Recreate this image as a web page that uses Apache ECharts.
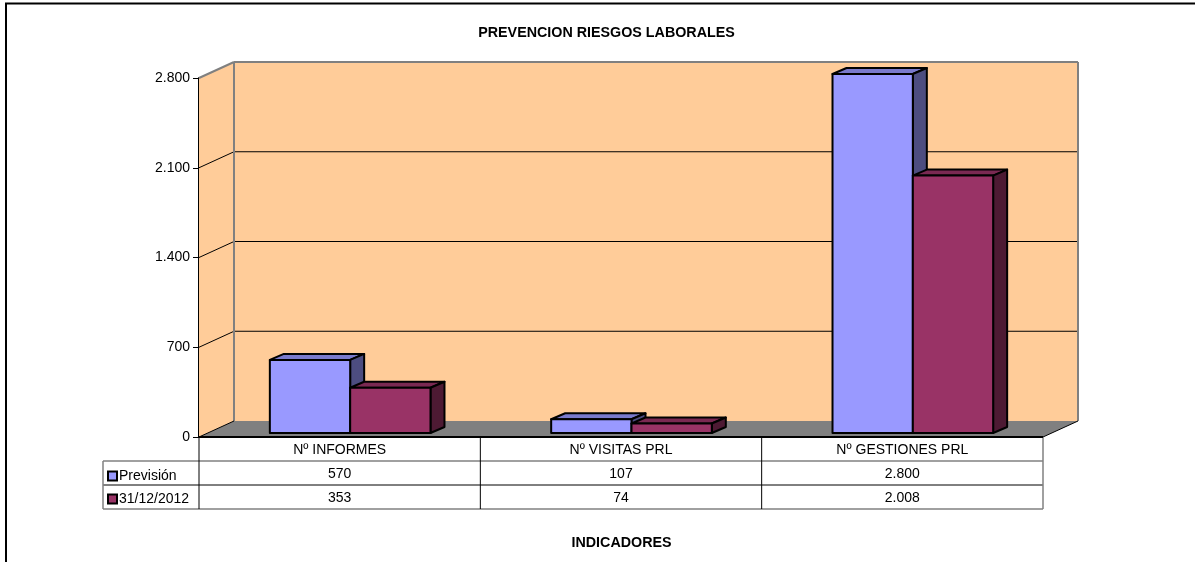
<!DOCTYPE html>
<html><head><meta charset="utf-8">
<style>html,body{margin:0;padding:0;background:#fff}#c{width:1195px;height:562px}</style>
<script src="https://cdn.jsdelivr.net/npm/echarts@6/dist/echarts.min.js"></script>
</head><body><div id="c"></div>
<script>
const categories = ['Nº INFORMES', 'Nº VISITAS PRL', 'Nº GESTIONES PRL'];
const seriesNames = ['Previsión', '31/12/2012'];
const prevision = [570, 107, 2800];
const fecha = [353, 74, 2008];
const rowLabels = [['570', '107', '2.800'], ['353', '74', '2.008']];
const yTicks = [0, 700, 1400, 2100, 2800];
const titleText = 'PREVENCION RIESGOS LABORALES';
const xTitle = 'INDICADORES';

const FONT = '"Liberation Sans", Arial, sans-serif';
const FS = 14;
const WALL_DX = 35, WALL_DY = -16, ROW_H = 24;
const colors = [
  {front: '#9999FF', top: '#7A7ACC', side: '#4D4D80'},
  {front: '#993366', top: '#7A2952', side: '#4D1A33'}
];
const chart = echarts.init(document.getElementById('c'), null, {renderer: 'canvas'});

function poly(points, fill, stroke, lw) {
  return {type: 'polygon', shape: {points}, style: {fill: fill || 'transparent', stroke: stroke || null, lineWidth: lw || 1, lineJoin: 'round'}};
}
function seg(a, b, stroke, lw) {
  return {type: 'line', shape: {x1: a[0], y1: a[1], x2: b[0], y2: b[1]}, style: {stroke, lineWidth: lw || 1}};
}

function renderWalls(params, api) {
  const cs = params.coordSys, L = cs.x, R = cs.x + cs.width, B = cs.y + cs.height, T = cs.y;
  const d = [WALL_DX, WALL_DY], kids = [];
  kids.push(poly([[L, T], [L + d[0], T + d[1]], [L + d[0], B + d[1]], [L, B]], '#FFCC99'));
  kids.push(poly([[L + d[0], T + d[1]], [R + d[0], T + d[1]], [R + d[0], B + d[1]], [L + d[0], B + d[1]]], '#FFCC99'));
  kids.push(poly([[L, B], [R, B], [R + d[0], B + d[1]], [L + d[0], B + d[1]]], '#808080'));
  yTicks.slice(1, -1).forEach(v => {
    const y = api.coord([0, v])[1];
    kids.push(seg([L, y], [L + d[0], y + d[1]], '#000'));
    kids.push(seg([L + d[0], y + d[1]], [R + d[0], y + d[1]], '#000'));
  });
  kids.push(seg([L, T], [L + d[0], T + d[1]], '#808080', 2));
  kids.push(seg([L + d[0], T + d[1]], [R + d[0], T + d[1]], '#808080', 2));
  kids.push(seg([L + d[0], T + d[1]], [L + d[0], B + d[1]], '#808080', 2));
  kids.push(seg([R + d[0], T + d[1]], [R + d[0], B + d[1]], '#808080', 2));
  kids.push(seg([L, B], [L + d[0], B + d[1]], '#000'));
  kids.push(seg([R, B], [R + d[0], B + d[1]], '#000'));
  return {type: 'group', children: kids, silent: true};
}

function renderBar(idx) {
  return function (params, api) {
    const cat = api.value(0), val = api.value(1);
    const catW = api.size([1, 0])[0];
    const barW = catW * 0.2855;
    const base = api.coord([cat, 0]), top = api.coord([cat, val]);
    const x0 = base[0] + 10.5 - barW + idx * barW, x1 = x0 + barW;
    const yb = base[1] - 4, yt = top[1] - 4;
    const dx = 14, dy = -6, c = colors[idx];
    return {type: 'group', children: [
      poly([[x0, yt], [x0 + dx, yt + dy], [x1 + dx, yt + dy], [x1, yt]], c.top, '#000', 2),
      poly([[x1, yt], [x1 + dx, yt + dy], [x1 + dx, yb + dy], [x1, yb]], c.side, '#000', 2),
      poly([[x0, yt], [x1, yt], [x1, yb], [x0, yb]], c.front, '#000', 2)
    ]};
  };
}

function renderTable(params, api) {
  const cs = params.coordSys, L = cs.x, R = cs.x + cs.width, B = cs.y + cs.height;
  const catW = cs.width / categories.length, LEG = 96, kids = [];
  const y1 = B + ROW_H, y2 = y1 + ROW_H, y3 = y2 + ROW_H;
  [y1, y3].forEach(y => kids.push(seg([L - LEG, y], [R, y], '#808080', 1.5)));
  kids.push(seg([L - LEG, y2], [R, y2], '#000'));
  kids.push(seg([L - LEG, y1], [L - LEG, y3], '#808080', 1.5));
  kids.push(seg([R, B], [R, y3], '#808080', 1.5));
  kids.push(seg([L, B], [L, y3], '#000'));
  for (let i = 1; i < categories.length; i++) kids.push(seg([L + i * catW, B], [L + i * catW, y3], '#000'));
  rowLabels.forEach((row, r) => row.forEach((t, i) => kids.push({
    type: 'text',
    style: {text: t, x: L + (i + 0.5) * catW, y: y1 + (r + 0.5) * ROW_H + 1, align: 'center', verticalAlign: 'middle',
            font: FS + 'px ' + FONT, fill: '#000'}
  })));
  kids.push(seg([L, B], [R, B], '#000', 2));
  return {type: 'group', children: kids, silent: true};
}

chart.setOption({
  animation: false,
  backgroundColor: '#fff',
  title: [
    {text: titleText, left: 601.5, top: 21, textAlign: 'center',
     textStyle: {fontFamily: FONT, fontSize: 14.3, fontWeight: 'bold', color: '#000'}},
    {text: xTitle, left: 616.5, top: 531, textAlign: 'center',
     textStyle: {fontFamily: FONT, fontSize: 14.3, fontWeight: 'bold', color: '#000'}}
  ],
  legend: {
    orient: 'vertical', left: 107, top: 469, itemWidth: 9, itemHeight: 9, itemGap: 9, padding: 0,
    icon: 'rect', data: seriesNames, selectedMode: false,
    textStyle: {fontFamily: FONT, fontSize: FS, color: '#000', padding: [0, 0, 0, -3]},
    itemStyle: {borderColor: '#000', borderWidth: 2}
  },
  grid: {left: 199, right: 152, top: 78, height: 359, containLabel: false},
  xAxis: {
    type: 'category', data: categories, boundaryGap: true,
    axisLine: {show: false}, axisTick: {show: false}, splitLine: {show: false},
    axisLabel: {fontFamily: FONT, fontSize: FS, color: '#000', margin: 6}
  },
  yAxis: {
    type: 'value', min: 0, max: 2800, interval: 700,
    axisLine: {show: true, lineStyle: {color: '#000', width: 2}},
    axisTick: {show: true, length: 6, lineStyle: {color: '#000', width: 1}},
    splitLine: {show: false},
    axisLabel: {fontFamily: FONT, fontSize: FS, color: '#000', margin: 9,
      formatter: v => String(v).replace(/\B(?=(\d{3})+$)/g, '.')}
  },
  series: [
    {type: 'custom', name: 'walls', renderItem: renderWalls, data: [[0]], clip: false, z: 1, silent: true},
    {type: 'custom', name: seriesNames[0], renderItem: renderBar(0), data: prevision.map((v, i) => [i, v]),
     encode: {x: 0, y: 1}, clip: false, z: 2, itemStyle: {color: colors[0].front}},
    {type: 'custom', name: seriesNames[1], renderItem: renderBar(1), data: fecha.map((v, i) => [i, v]),
     encode: {x: 0, y: 1}, clip: false, z: 3, itemStyle: {color: colors[1].front}},
    {type: 'custom', name: 'table', renderItem: renderTable, data: [[0]], clip: false, z: 4, silent: true}
  ],
  graphic: [
    {type: 'polyline', z: 100, shape: {points: [[6, 562], [6, 3.5], [1195, 3.5]]},
     style: {stroke: '#000', lineWidth: 2, fill: null}}
  ]
});
</script></body></html>
